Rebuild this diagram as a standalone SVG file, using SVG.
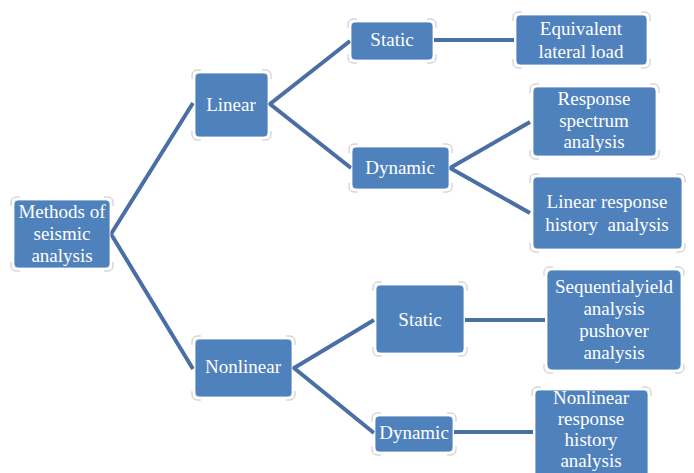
<svg xmlns="http://www.w3.org/2000/svg" xmlns:xlink="http://www.w3.org/1999/xlink" width="694" height="473" viewBox="0 0 694 473">
<style>
.box{fill:#4f81bd;stroke:#ffffff;stroke-opacity:0.8;stroke-width:1}
.t{font-family:"Liberation Serif","Times New Roman",serif;font-size:19px;fill:#ffffff;text-anchor:middle}
.c{fill:none;stroke:#c4c4c4;stroke-width:1}
.ln{fill:none;stroke:#4a6fa5;stroke-width:4;stroke-linejoin:miter}
</style>
<defs>
<path id="cn" class="c" d="M0,9 V5 A5,5 0 0 1 5,0 H9"/>
</defs>
<rect width="694" height="473" fill="#ffffff"/>
<g id="connectors">
<polyline class="ln" points="193,103 111,234 193,369"/>
<polyline class="ln" points="350,41 270,104 351,168"/>
<line class="ln" x1="434" y1="40" x2="514" y2="40"/>
<polyline class="ln" points="530,122 450,168 530,213"/>
<polyline class="ln" points="374,320 294,368 374,433"/>
<line class="ln" x1="465" y1="320" x2="545" y2="320"/>
<line class="ln" x1="454" y1="432" x2="533" y2="432"/>
</g>
<g id="n-methods">
<use xlink:href="#cn" transform="translate(11,197)"/><use xlink:href="#cn" transform="translate(113,197) scale(-1,1)"/><use xlink:href="#cn" transform="translate(11,271) scale(1,-1)"/><use xlink:href="#cn" transform="translate(113,271) scale(-1,-1)"/>
<rect class="box" x="14" y="200" width="96" height="68" rx="4"/>
<text class="t" x="62" y="218">Methods of</text><text class="t" x="62" y="240">seismic</text><text class="t" x="62" y="262">analysis</text>
</g>
<g id="n-linear">
<use xlink:href="#cn" transform="translate(192,70)"/><use xlink:href="#cn" transform="translate(271,70) scale(-1,1)"/><use xlink:href="#cn" transform="translate(192,140) scale(1,-1)"/><use xlink:href="#cn" transform="translate(271,140) scale(-1,-1)"/>
<rect class="box" x="195" y="73" width="73" height="64" rx="4"/>
<text class="t" x="231" y="111">Linear</text>
</g>
<g id="n-static1">
<use xlink:href="#cn" transform="translate(348,19)"/><use xlink:href="#cn" transform="translate(436,19) scale(-1,1)"/><use xlink:href="#cn" transform="translate(348,63) scale(1,-1)"/><use xlink:href="#cn" transform="translate(436,63) scale(-1,-1)"/>
<rect class="box" x="351" y="22" width="82" height="38" rx="4"/>
<text class="t" x="392" y="46">Static</text>
</g>
<g id="n-equiv">
<use xlink:href="#cn" transform="translate(513,12)"/><use xlink:href="#cn" transform="translate(650,12) scale(-1,1)"/><use xlink:href="#cn" transform="translate(513,68) scale(1,-1)"/><use xlink:href="#cn" transform="translate(650,68) scale(-1,-1)"/>
<rect class="box" x="516" y="15" width="131" height="50" rx="4"/>
<text class="t" x="581" y="35">Equivalent</text><text class="t" x="581" y="58">lateral load</text>
</g>
<g id="n-dynamic1">
<use xlink:href="#cn" transform="translate(349,144)"/><use xlink:href="#cn" transform="translate(452,144) scale(-1,1)"/><use xlink:href="#cn" transform="translate(349,192) scale(1,-1)"/><use xlink:href="#cn" transform="translate(452,192) scale(-1,-1)"/>
<rect class="box" x="352" y="147" width="97" height="42" rx="4"/>
<text class="t" x="400" y="174">Dynamic</text>
</g>
<g id="n-respspec">
<use xlink:href="#cn" transform="translate(530,84)"/><use xlink:href="#cn" transform="translate(659,84) scale(-1,1)"/><use xlink:href="#cn" transform="translate(530,159) scale(1,-1)"/><use xlink:href="#cn" transform="translate(659,159) scale(-1,-1)"/>
<rect class="box" x="533" y="87" width="123" height="69" rx="4"/>
<text class="t" x="594" y="105">Response</text><text class="t" x="594" y="127">spectrum</text><text class="t" x="594" y="148">analysis</text>
</g>
<g id="n-linresp">
<use xlink:href="#cn" transform="translate(530,174)"/><use xlink:href="#cn" transform="translate(685,174) scale(-1,1)"/><use xlink:href="#cn" transform="translate(530,252) scale(1,-1)"/><use xlink:href="#cn" transform="translate(685,252) scale(-1,-1)"/>
<rect class="box" x="533" y="177" width="149" height="72" rx="4"/>
<text class="t" x="607" y="208">Linear response</text><text class="t" x="607" y="231" xml:space="preserve">history  analysis</text>
</g>
<g id="n-nonlinear">
<use xlink:href="#cn" transform="translate(192,336)"/><use xlink:href="#cn" transform="translate(295,336) scale(-1,1)"/><use xlink:href="#cn" transform="translate(192,400) scale(1,-1)"/><use xlink:href="#cn" transform="translate(295,400) scale(-1,-1)"/>
<rect class="box" x="195" y="339" width="97" height="58" rx="4"/>
<text class="t" x="243" y="373">Nonlinear</text>
</g>
<g id="n-static2">
<use xlink:href="#cn" transform="translate(373,282)"/><use xlink:href="#cn" transform="translate(467,282) scale(-1,1)"/><use xlink:href="#cn" transform="translate(373,356) scale(1,-1)"/><use xlink:href="#cn" transform="translate(467,356) scale(-1,-1)"/>
<rect class="box" x="376" y="285" width="88" height="68" rx="4"/>
<text class="t" x="420" y="326">Static</text>
</g>
<g id="n-dynamic2">
<use xlink:href="#cn" transform="translate(372,413)"/><use xlink:href="#cn" transform="translate(456,413) scale(-1,1)"/><use xlink:href="#cn" transform="translate(372,455) scale(1,-1)"/><use xlink:href="#cn" transform="translate(456,455) scale(-1,-1)"/>
<rect class="box" x="375" y="416" width="78" height="36" rx="4"/>
<text class="t" x="414" y="439">Dynamic</text>
</g>
<g id="n-sequential">
<use xlink:href="#cn" transform="translate(544,267)"/><use xlink:href="#cn" transform="translate(684,267) scale(-1,1)"/><use xlink:href="#cn" transform="translate(544,373) scale(1,-1)"/><use xlink:href="#cn" transform="translate(684,373) scale(-1,-1)"/>
<rect class="box" x="547" y="270" width="134" height="100" rx="5"/>
<text class="t" x="614" y="293">Sequentialyield</text><text class="t" x="614" y="315">analysis</text><text class="t" x="614" y="337">pushover</text><text class="t" x="614" y="359">analysis</text>
</g>
<g id="n-nlresp">
<use xlink:href="#cn" transform="translate(532,387)"/><use xlink:href="#cn" transform="translate(651,387) scale(-1,1)"/>
<rect class="box" x="535" y="390" width="113" height="90" rx="4"/>
<text class="t" x="591" y="404">Nonlinear</text><text class="t" x="591" y="425">response</text><text class="t" x="591" y="446">history</text><text class="t" x="591" y="467">analysis</text>
</g>
</svg>
